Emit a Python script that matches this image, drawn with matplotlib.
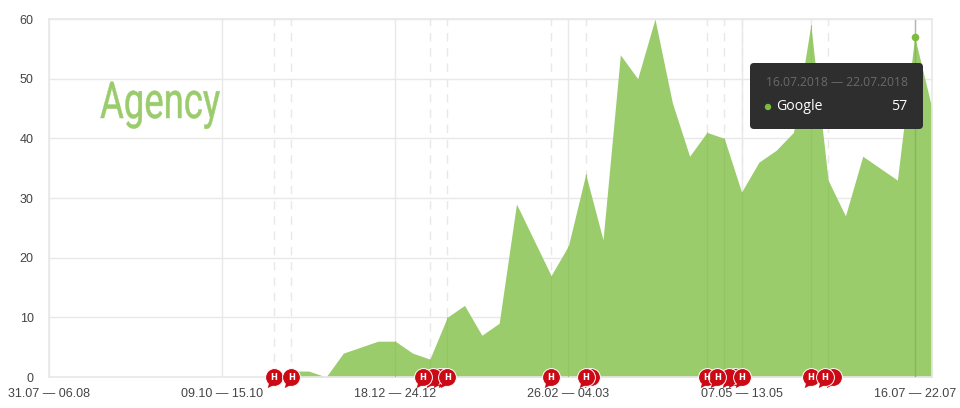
import matplotlib
matplotlib.use('Agg')
import matplotlib.pyplot as plt
import numpy as np
from matplotlib.path import Path
from matplotlib.patches import FancyBboxPatch
from matplotlib.patheffects import AbstractPathEffect
from matplotlib.transforms import Affine2D, IdentityTransform

# weekly values, 31.07.2017 -> 16.07.2018 and one more week
values = [0, 0, 0, 0, 0, 0, 0, 0, 0, 0,
          0, 0, 0, 0, 1, 1, 0, 4, 5, 6,
          6, 4, 3, 10, 12, 7, 9, 29, 23, 17,
          22, 34, 23, 54, 50, 60, 46, 37, 41, 40,
          31, 36, 38, 41, 59, 33, 27, 37, 35, 33,
          57, 45]
tick_weeks = [0, 10, 20, 30, 40, 50]
tick_labels = ['31.07 — 06.08', '09.10 — 15.10', '18.12 — 24.12',
               '26.02 — 04.03', '07.05 — 13.05', '16.07 — 22.07']
y_ticks = [0, 10, 20, 30, 40, 50, 60]

# annotation weeks (dashed lines + red H bubbles)
dashed_weeks = [13, 14, 22, 23, 29, 31, 38, 39, 40, 44, 45]
back_bubbles = [22.9, 22.6, 22.2, 31.3, 39.6, 39.3, 45.3]
front_bubbles = [13, 14, 21.6, 23, 29, 31, 38, 38.6, 40, 44, 44.8]

hover_week = 50
hover_value = 57

GREEN = '#9bcc6c'
GRID = '#e8e8e8'
THROUGH = '#93c564'
TEXT = '#444444'
RED = '#cc0a15'
W, H = 960, 408


class Squeeze(AbstractPathEffect):
    # narrow text sideways, no condensed font here
    def __init__(self, x0, sx, lw):
        super().__init__()
        self.x0 = x0
        self.sx = sx
        self.lw = lw

    def draw_path(self, renderer, gc, tpath, affine, rgbFace=None):
        squeeze = Affine2D().translate(-self.x0, 0).scale(self.sx, 1).translate(self.x0, 0)
        gc.set_linewidth(self.lw)
        gc.set_foreground(rgbFace)
        renderer.draw_path(gc, tpath, affine + squeeze, rgbFace)


def draw_bubbles(ax, xs, z):
    ys = [0] * len(xs)
    ax.scatter(xs, ys, marker='o', s=165, color=RED, edgecolor='white', lw=0.7,
               clip_on=False, zorder=z)
    # tail goes on top so the white edge does not cut it off
    ax.scatter(xs, ys, marker=tail, s=233, color=RED, lw=0, clip_on=False, zorder=z)


fig = plt.figure(figsize=(W / 100, H / 100), dpi=100)
ax = fig.add_axes([49 / W, 1 - 377 / H, (932 - 49) / W, (377 - 19) / H])

weeks = np.arange(len(values))
ax.fill_between(weeks, values, 0, color=GREEN, lw=0, zorder=2)
ax.set_xlim(0, 51)
ax.set_ylim(0, 60)

ax.set_xticks(tick_weeks)
ax.set_xticklabels(tick_labels, fontsize=9, color=TEXT, family='Liberation Sans')
ax.set_yticks(y_ticks)
ax.set_yticklabels(y_ticks, fontsize=9, color=TEXT, family='Liberation Sans')
ax.tick_params(axis='both', length=0)
ax.tick_params(axis='x', pad=8)
ax.tick_params(axis='y', pad=11)
ax.grid(True, color=GRID, lw=1, zorder=1)
ax.set_axisbelow(True)
for s in ax.spines.values():
    s.set_color(GRID)
    s.set_linewidth(1.2)

# grid shows through the area very faintly
inside = tick_weeks[1:] + dashed_weeks
ax.vlines(inside, 0, [values[w] for w in inside], color=THROUGH, lw=0.8, zorder=3)
for w in dashed_weeks:
    ax.axvline(w, color=GRID, lw=1, dashes=(6, 5), zorder=1)

# bubble tail, scatter scales it so the largest coordinate is 0.5
tail = Path([(-0.6, -0.55), (-0.1, -0.9), (-0.8, -1.25), (-0.6, -0.55)],
            [Path.MOVETO, Path.LINETO, Path.LINETO, Path.CLOSEPOLY])
draw_bubbles(ax, back_bubbles, 5)
draw_bubbles(ax, front_bubbles, 6)
for w in front_bubbles:
    ax.annotate('H', (w, 0), ha='center', va='center', fontsize=6, color='white',
                weight='bold', annotation_clip=False, zorder=7)

# hover line and point
ax.axvline(hover_week, color='#b5b5b5', lw=1, zorder=1)
ax.vlines(hover_week, 0, hover_value, color='#86b85a', lw=1, zorder=3)
ax.scatter([hover_week], [hover_value], s=30, color='#7dbb3e', lw=0, zorder=4)

# big label
agency = fig.text(100 / W, 1 - 118 / H, 'Agency', color=GREEN, fontsize=36.5,
                  family='Roboto', ha='left', va='baseline')
agency.set_path_effects([Squeeze(100, 0.72, 0.35)])

# tooltip, pixel coordinates
px = IdentityTransform()
fig.add_artist(FancyBboxPatch((753, H - 126), 167, 60, boxstyle='round,pad=3,rounding_size=4',
                              fc='#2e2e2e', ec='none', transform=px))
fig.text(766, H - 82, '16.07.2018 — 22.07.2018', transform=px, color='#6a6a6a', fontsize=8.7,
         family='Open Sans', va='center', ha='left')
fig.text(776, H - 106, 'Google', transform=px, color='white', fontsize=10.2,
         family='Open Sans', va='center', ha='left')
fig.text(907, H - 106, '57', transform=px, color='white', fontsize=10.2,
         family='Open Sans', va='center', ha='right')
fig.add_artist(plt.Circle((768, H - 107), 2.5, color='#7dbb3e', transform=px))

fig.savefig('out.png', dpi=100, facecolor='white')
